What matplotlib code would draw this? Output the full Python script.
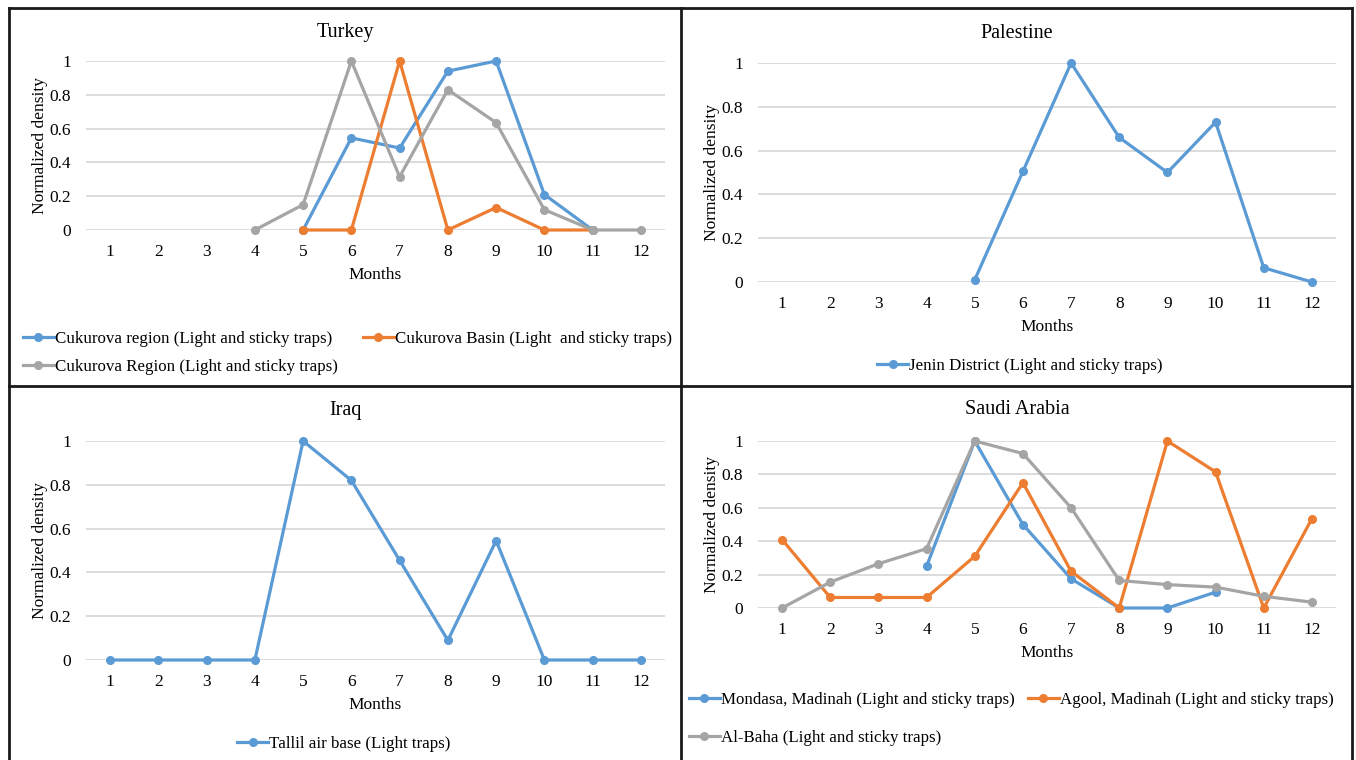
import numpy as np
import matplotlib
matplotlib.use("Agg")
import matplotlib.pyplot as plt
from matplotlib.lines import Line2D

plt.rcParams['font.family'] = ['Liberation Serif', 'DejaVu Serif']

months = list(range(1, 13))
month_labels = [str(m) for m in months]
yticks = [0, 0.2, 0.4, 0.6, 0.8, 1]
ytick_labels = ["0", "0.2", "0.4", "0.6", "0.8", "1"]
N = None

# Turkey
turkey_names = ["Cukurova region (Light and sticky traps)",
                "Cukurova Basin (Light  and sticky traps)",
                "Cukurova Region (Light and sticky traps)"]
turkey_blue = [N, N, N, N, 0.0, 0.545, 0.485, 0.94, 1.0, 0.21, 0.0, N]
turkey_orange = [N, N, N, N, 0.0, 0.0, 1.0, 0.0, 0.133, 0.0, 0.0, N]
turkey_gray = [N, N, N, 0.0, 0.15, 1.0, 0.315, 0.83, 0.635, 0.12, 0.0, 0.0]

# Palestine
palestine_names = ["Jenin District (Light and sticky traps)"]
palestine_blue = [N, N, N, N, 0.01, 0.505, 1.0, 0.66, 0.5, 0.73, 0.065, 0.0]

# Iraq
iraq_names = ["Tallil air base (Light traps)"]
iraq_blue = [0.0, 0.0, 0.0, 0.0, 1.0, 0.82, 0.455, 0.09, 0.545, 0.0, 0.0, 0.0]

# Saudi Arabia
saudi_names = ["Mondasa, Madinah (Light and sticky traps)",
               "Agool, Madinah (Light and sticky traps)",
               "Al-Baha (Light and sticky traps)"]
saudi_blue = [N, N, N, 0.25, 1.0, 0.5, 0.175, 0.0, 0.0, 0.095, N, N]
saudi_orange = [0.41, 0.063, 0.063, 0.063, 0.31, 0.75, 0.22, 0.0, 1.0, 0.815, 0.0, 0.535]
saudi_gray = [0.0, 0.155, 0.265, 0.355, 1.0, 0.925, 0.6, 0.165, 0.14, 0.125, 0.07, 0.035]

BLUE = "#5B9BD5"
ORANGE = "#ED7D31"
GRAY = "#A5A5A5"
GRID = "#D9D9D9"
TXT = "#000000"

W, H = 1356, 760
fig = plt.figure(figsize=(W / 100, H / 100), dpi=100)
fig.patch.set_facecolor("white")


def px_axes(l, r, t, b):
    return fig.add_axes([l / W, 1 - b / H, (r - l) / W, (b - t) / H])


def to_arr(v):
    return np.array([np.nan if x is None else x for x in v], dtype=float)


def setup(ax, title, title_y_px):
    ax.set_xlim(0.5, 12.5)
    ax.set_ylim(0, 1)
    for s in ax.spines.values():
        s.set_visible(False)
    ax.set_yticks(yticks)
    ax.set_yticklabels(ytick_labels)
    ax.set_xticks(months)
    ax.set_xticklabels(month_labels)
    ax.tick_params(axis='both', length=0, labelsize=12.5, colors=TXT)
    ax.tick_params(axis='y', pad=11)
    ax.tick_params(axis='x', pad=10)
    ax.grid(axis='y', color=GRID, lw=1.3)
    ax.set_axisbelow(True)
    ax.set_xlabel("Months", fontsize=12.5, labelpad=5)
    ax.set_ylabel("Normalized density", fontsize=12.5, labelpad=1)
    bb = ax.get_position()
    fig.text((bb.x0 + bb.x1) / 2 - 30 / W, 1 - title_y_px / H, title,
             fontsize=14.5, ha='center', va='center')


def plot_series(ax, data, color, label):
    ax.plot(months, to_arr(data), color=color, lw=2.3, marker='o', ms=5.5,
            label=label, clip_on=False, zorder=3)


# Turkey
ax1 = px_axes(86, 665, 61, 230)
setup(ax1, "Turkey", 32)
plot_series(ax1, turkey_blue, BLUE, turkey_names[0])
plot_series(ax1, turkey_orange, ORANGE, turkey_names[1])
plot_series(ax1, turkey_gray, GRAY, turkey_names[2])

# Palestine
ax2 = px_axes(758, 1336, 63, 282)
setup(ax2, "Palestine", 34)
plot_series(ax2, palestine_blue, BLUE, palestine_names[0])

# Iraq
ax3 = px_axes(86, 665, 441, 660)
setup(ax3, "Iraq", 411)
plot_series(ax3, iraq_blue, BLUE, iraq_names[0])

# Saudi Arabia
ax4 = px_axes(758, 1336, 441, 608)
setup(ax4, "Saudi Arabia", 410)
plot_series(ax4, saudi_blue, BLUE, saudi_names[0])
plot_series(ax4, saudi_orange, ORANGE, saudi_names[1])
plot_series(ax4, saudi_gray, GRAY, saudi_names[2])

leg_kw = dict(frameon=False, fontsize=12.2, handlelength=1.8, handletextpad=0.08,
              borderaxespad=0, borderpad=0)


def rowwise(ax):
    h, l = ax.get_legend_handles_labels()
    order = [0, 2, 1]
    return [h[i] for i in order], [l[i] for i in order]


h, l = rowwise(ax1)
fig.legend(h, l, loc='upper left', bbox_to_anchor=(23 / W, 1 - 331 / H), ncol=2,
           columnspacing=1.5, labelspacing=0.7, **leg_kw)

h, l = ax2.get_legend_handles_labels()
fig.legend(h, l, loc='center', bbox_to_anchor=(1020 / W, 1 - 366 / H), ncol=1, **leg_kw)

h, l = ax3.get_legend_handles_labels()
fig.legend(h, l, loc='center', bbox_to_anchor=(344 / W, 1 - 744 / H), ncol=1, **leg_kw)

h, l = rowwise(ax4)
fig.legend(h, l, loc='upper left', bbox_to_anchor=(689 / W, 1 - 692 / H), ncol=2,
           columnspacing=0.8, labelspacing=1.3, **leg_kw)

# panel borders
def fline(x0, y0, x1, y1, color="#1a1a1a", lw=2.0):
    fig.add_artist(Line2D([x0 / W, x1 / W], [1 - y0 / H, 1 - y1 / H],
                          color=color, lw=lw, transform=fig.transFigure))

fline(9, 8, 1352, 8)
fline(9, 8, 9, 760)
fline(1352, 8, 1352, 760)
fline(681, 8, 681, 760)
fline(9, 386, 1352, 386)

fig.savefig("out.png", dpi=100, facecolor="white")
